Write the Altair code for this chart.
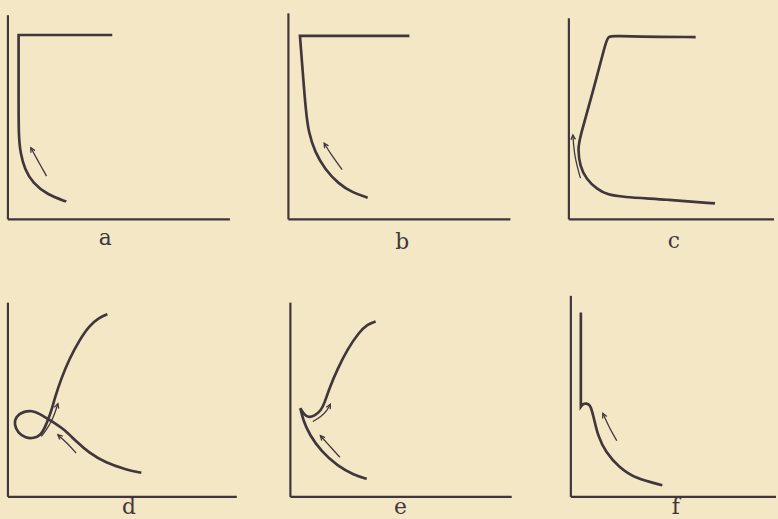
import math

import altair as alt
import pandas as pd

PAPER = "#f4e7c6"
INK = "#41363c"

# Control points for the six panels (arbitrary units: 100 x-units per full
# axis length, 100 y-units per full axis height). Curves are B-splines, so a
# point listed three times in a row is a sharp corner.

# a
a_curve_x = [47.0, 4.8, 4.8, 4.8, 4.8, 4.8, 5.6, 7.6, 11.2, 17.6, 26.3]
a_curve_y = [90.3, 90.3, 90.3, 90.3, 60.0, 41.1, 32.6, 24.4, 17.9, 12.2, 8.7]
a_arrow_x = [17.4, 13.3, 10.3]
a_arrow_y = [21.2, 29.1, 35.1]

# b
b_curve_x = [54.5, 5.2, 5.2, 5.2, 6.6, 7.9, 9.1, 12.0, 16.5, 22.6, 28.7, 35.7]
b_curve_y = [89.9, 89.9, 89.9, 89.9, 70.0, 52.7, 42.6, 32.8, 24.5, 17.4, 13.2, 10.6]
b_arrow_x = [24.2, 19.8, 16.1]
b_arrow_y = [24.4, 30.8, 37.3]

# c
c_curve_x = [57.1, 30.0, 21.0, 17.6, 16.6, 10.7, 4.8, 4.1, 4.9, 7.9, 12.6, 17.4, 23.3, 44.2, 65.8]
c_curve_y = [89.3, 89.5, 89.8, 89.8, 86.6, 62.0, 39.6, 34.6, 26.2, 19.6, 14.9, 12.1, 11.0, 9.7, 7.8]
c_arrow_x = [5.2, 2.5, 1.8]
c_arrow_y = [20.2, 30.7, 41.3]

# d
d_curve_x = [60.1, 53.0, 44.1, 36.6, 30.7, 25.4, 21.7, 17.9, 14.3, 11.0, 7.0, 3.5, 2.8,
             4.5, 8.0, 11.6, 14.8, 16.6, 18.1, 19.6, 21.0, 24.0, 27.7, 32.1, 36.6, 41.1, 44.8]
d_curve_y = [12.4, 14.1, 17.5, 22.6, 28.6, 34.7, 37.5, 40.2, 42.8, 44.4, 44.0, 41.4, 37.3,
             32.9, 30.3, 30.1, 31.8, 35.6, 39.8, 44.4, 50.5, 60.9, 71.1, 80.5, 88.1, 92.3, 94.0]
d_arrow1_x = [15.0, 17.4, 19.6, 21.4, 22.5]
d_arrow1_y = [31.1, 34.7, 38.8, 43.9, 48.0]
d_arrow2_x = [30.7, 26.8, 22.5]
d_arrow2_y = [22.6, 27.6, 32.0]

# e
e_curve_x = [34.4, 28.7, 21.3, 13.8, 8.6, 5.7, 4.5, 4.5, 4.5, 6.3, 8.0, 10.8, 13.8, 15.3, 17.5,
             21.3, 25.8, 30.9, 34.7, 38.4]
e_curve_y = [9.3, 11.2, 15.8, 23.5, 32.0, 39.6, 45.6, 45.6, 45.6, 42.2, 40.9, 41.6, 44.5, 48.1, 55.8,
             66.0, 76.2, 84.7, 88.9, 90.3]
e_arrow1_x = [10.1, 13.8, 16.5, 18.0]
e_arrow1_y = [38.8, 41.3, 44.4, 47.7]
e_arrow2_x = [22.3, 17.9, 13.5]
e_arrow2_y = [20.4, 25.9, 31.5]

# f
f_curve_x = [4.5, 4.5, 4.5, 4.5, 4.5, 5.5, 7.0, 8.6, 9.4, 10.4, 12.1, 15.7, 21.7, 29.1, 41.2]
f_curve_y = [94.9, 70.0, 46.4, 46.4, 46.4, 47.9, 48.2, 47.3, 44.7, 40.5, 31.6, 22.9, 15.2, 9.4, 6.0]
f_arrow_x = [20.7, 17.4, 14.4]
f_arrow_y = [28.9, 35.4, 43.0]

labels = ["a", "b", "c", "d", "e", "f"]
label_x = [43.8, 51.3, 47.3, 54.5, 49.6, 47.3]
label_y = [-12.6, -14.6, -14.1, -8.7, -8.7, -8.7]
x_ends = [100.0, 100.0, 92.4, 103.1, 99.7, 92.4]
y_tops = [100.0, 100.9, 98.5, 100.0, 100.0, 103.5]

curves = [
    (a_curve_x, a_curve_y), (b_curve_x, b_curve_y), (c_curve_x, c_curve_y),
    (d_curve_x, d_curve_y), (e_curve_x, e_curve_y), (f_curve_x, f_curve_y),
]
arrows = [
    [(a_arrow_x, a_arrow_y)],
    [(b_arrow_x, b_arrow_y)],
    [(c_arrow_x, c_arrow_y)],
    [(d_arrow1_x, d_arrow1_y), (d_arrow2_x, d_arrow2_y)],
    [(e_arrow1_x, e_arrow1_y), (e_arrow2_x, e_arrow2_y)],
    [(f_arrow_x, f_arrow_y)],
]

# layout of the two rows of panels
PX_PER_X = 2.24
ROWS = [
    dict(height=242, ymin=-16.5, ymax=100.97, px_per_y=2.06),
    dict(height=226, ymin=-11.73, ymax=103.57, px_per_y=1.96),
]
COL_WIDTHS = [231, 231, 207]

# open arrowhead, tip at the origin, pointing up before rotation
CHEVRON = "M-0.55,1.1L0,0L0.55,1.1"


def panel(i):
    row = ROWS[i // 3]
    width = COL_WIDTHS[i % 3]
    xs = alt.Scale(domain=[0, width / PX_PER_X], nice=False, zero=False)
    ys = alt.Scale(domain=[row["ymin"], row["ymax"]], nice=False, zero=False)

    frame = pd.DataFrame({
        "x": [0.0, 0.0], "x2": [x_ends[i], 0.0],
        "y": [0.0, 0.0], "y2": [0.0, y_tops[i]],
    })
    cx, cy = curves[i]
    curve = pd.DataFrame({"x": cx, "y": cy, "k": range(len(cx))})

    arrow_rows, head_rows = [], []
    for j, (ax, ay) in enumerate(arrows[i]):
        for k, (px, py) in enumerate(zip(ax, ay)):
            arrow_rows.append({"x": px, "y": py, "k": k, "id": j})
        dx = (ax[-1] - ax[-2]) * PX_PER_X
        dy = (ay[-1] - ay[-2]) * row["px_per_y"]
        angle = math.degrees(math.atan2(dx, dy)) % 360
        head_rows.append({"x": ax[-1], "y": ay[-1], "angle": angle})
    arrow_df = pd.DataFrame(arrow_rows)
    head_df = pd.DataFrame(head_rows)
    label_df = pd.DataFrame({"x": [label_x[i]], "y": [label_y[i]], "t": [labels[i]]})

    X = lambda: alt.X("x:Q", scale=xs, axis=None)
    Y = lambda: alt.Y("y:Q", scale=ys, axis=None)

    axes = alt.Chart(frame).mark_rule(color=INK, strokeWidth=2.2).encode(
        x=X(), x2="x2:Q", y=Y(), y2="y2:Q"
    )
    line = alt.Chart(curve).mark_line(
        color=INK, strokeWidth=2.7, interpolate="basis"
    ).encode(x=X(), y=Y(), order="k:O")
    arrow = alt.Chart(arrow_df).mark_line(
        color=INK, strokeWidth=1.3, interpolate="basis"
    ).encode(x=X(), y=Y(), detail="id:N", order="k:O")
    head = alt.Chart(head_df).mark_point(
        shape=CHEVRON, filled=False, color=INK, strokeWidth=1.3, size=70, opacity=1
    ).encode(x=X(), y=Y(), angle=alt.Angle("angle:Q", scale=None))
    text = alt.Chart(label_df).mark_text(
        font="DejaVu Serif", fontSize=22, color=INK, baseline="alphabetic", align="center"
    ).encode(x=X(), y=Y(), text="t:N")

    return alt.layer(axes, line, arrow, head, text).properties(
        width=width, height=row["height"]
    )


top = alt.hconcat(*[panel(i) for i in range(3)], spacing=50)
bottom = alt.hconcat(*[panel(i) for i in range(3, 6)], spacing=50)

chart = alt.vconcat(top, bottom, spacing=41).properties(
    background=PAPER,
    padding={"left": 6, "top": 10, "right": 0, "bottom": 0},
).configure_view(stroke=None)

chart.save("out.html", embed_options={"renderer": "svg", "actions": False})
